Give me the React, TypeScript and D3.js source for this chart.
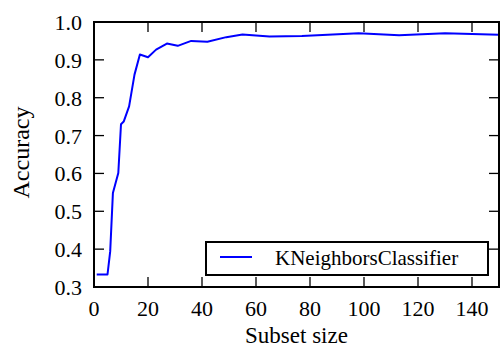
import React, { useEffect, useRef } from "react";
import * as d3 from "d3";

// subset size vs accuracy
const subsetSizes = [1, 5, 6, 7, 9, 10, 11, 13, 15, 17, 20, 23, 27, 31, 36, 42, 49, 55, 65, 77, 98, 113, 130, 150];
const accuracies = [0.333, 0.333, 0.394, 0.548, 0.601, 0.73, 0.737, 0.777, 0.861, 0.914, 0.907, 0.927, 0.943, 0.937, 0.95, 0.948, 0.96, 0.967, 0.962, 0.963, 0.97, 0.965, 0.97, 0.966];
const xTicks = [0, 20, 40, 60, 80, 100, 120, 140];
const yTicks = [0.3, 0.4, 0.5, 0.6, 0.7, 0.8, 0.9, 1.0];
const seriesName = "KNeighborsClassifier";

const W = 500, H = 349;
const margin = { top: 22, right: 1, bottom: 62, left: 94 };
const font = "\"Liberation Serif\", \"Times New Roman\", \"DejaVu Serif\", Times, serif";

function Chart() {
    const svgRef = useRef<SVGSVGElement>(null);

    useEffect(() => {
        const svg = d3.select(svgRef.current);
        svg.selectAll("*").remove();

        const x = d3.scaleLinear().domain([0, 150]).range([margin.left, W - margin.right]);
        const y = d3.scaleLinear().domain([0.3, 1.0]).range([H - margin.bottom, margin.top]);
        const x0 = x(0), x1 = x(150), y0 = y(0.3), y1 = y(1.0);

        const data = subsetSizes.map((s, i) => [s, accuracies[i]] as [number, number]);
        const line = d3.line<[number, number]>().x(d => x(d[0])).y(d => y(d[1]));

        svg.append("path")
            .datum(data)
            .attr("d", line)
            .attr("fill", "none")
            .attr("stroke", "#0000ff")
            .attr("stroke-width", 2)
            .attr("stroke-linejoin", "round");

        const tickLen = 10;
        const ticks = svg.append("g").attr("stroke", "black").attr("stroke-width", 1.3);
        xTicks.forEach(t => {
            ticks.append("line").attr("x1", x(t)).attr("x2", x(t)).attr("y1", y0).attr("y2", y0 - tickLen);
            ticks.append("line").attr("x1", x(t)).attr("x2", x(t)).attr("y1", y1).attr("y2", y1 + tickLen);
        });
        yTicks.forEach(t => {
            ticks.append("line").attr("x1", x0).attr("x2", x0 + tickLen).attr("y1", y(t)).attr("y2", y(t));
            ticks.append("line").attr("x1", x1).attr("x2", x1 - tickLen).attr("y1", y(t)).attr("y2", y(t));
        });

        svg.append("rect")
            .attr("x", x0).attr("y", y1)
            .attr("width", x1 - x0).attr("height", y0 - y1)
            .attr("fill", "none").attr("stroke", "black").attr("stroke-width", 2);

        const texts = svg.append("g").attr("font-family", font).attr("fill", "black");

        texts.append("g").selectAll("text")
            .data(xTicks).enter().append("text")
            .attr("x", d => x(d)).attr("y", y0 + 29)
            .attr("text-anchor", "middle")
            .attr("font-size", 22)
            .text(d => d);

        texts.append("g").selectAll("text")
            .data(yTicks).enter().append("text")
            .attr("x", x0 - 12).attr("y", d => y(d) + 8)
            .attr("text-anchor", "end")
            .attr("font-size", 22)
            .text(d => d3.format(".1f")(d));

        texts.append("text")
            .attr("x", (x0 + x1) / 2).attr("y", H - 6)
            .attr("text-anchor", "middle")
            .attr("font-size", 23)
            .text("Subset size");

        texts.append("text")
            .attr("transform", `translate(29, ${(y0 + y1) / 2 - 2}) rotate(-90)`)
            .attr("text-anchor", "middle")
            .attr("font-size", 24)
            .text("Accuracy");

        const legend = svg.append("g");
        legend.append("rect")
            .attr("x", 206).attr("y", 242).attr("width", 282).attr("height", 33)
            .attr("fill", "white").attr("stroke", "black").attr("stroke-width", 2);
        legend.append("line")
            .attr("x1", 220).attr("x2", 252).attr("y1", 257).attr("y2", 257)
            .attr("stroke", "#0000ff").attr("stroke-width", 2);
        legend.append("text")
            .attr("x", 275).attr("y", 265)
            .attr("font-family", font).attr("font-size", 21)
            .text(seriesName);
    }, []);

    return (
        <svg ref={svgRef} width={W} height={H}
            style={{ position: "absolute", left: 0, top: 0, display: "block" }} />
    );
}

export default function App() {
    return <Chart />;
}
